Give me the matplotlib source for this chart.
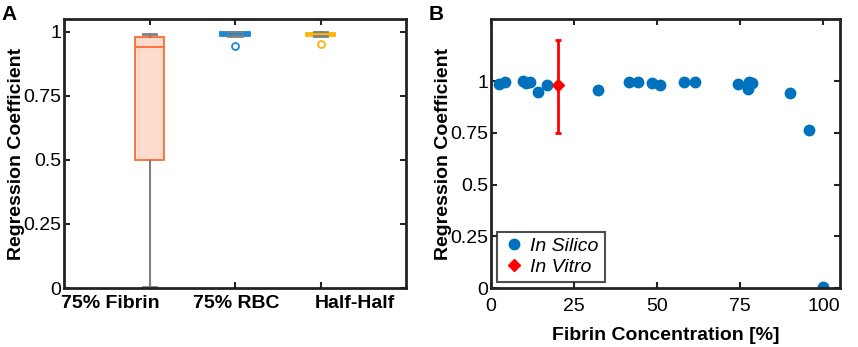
import matplotlib
matplotlib.use("Agg")
import matplotlib.pyplot as plt
from matplotlib import transforms

plt.rcParams['font.family'] = ['Liberation Sans', 'DejaVu Sans']

# ---- panel A: box plot stats ----
groups = ["75% Fibrin", "75% RBC", "Half-Half"]
q1 = [0.50, 0.983, 0.984]
med = [0.94, 0.99, 0.99]
q3 = [0.98, 0.998, 0.996]
whis_lo = [0.005, 0.983, 0.984]
whis_hi = [0.99, 0.999, 0.999]
fliers = [[], [0.943], [0.952]]
box_edge = ["#FF6A33", "#1A8AD4", "#FFB300"]
box_face = ["#FDDBCD", "#1A8AD4", "#FFE08A"]

# ---- panel B: scatter ----
fibrin_pct = [2.3, 4.3, 9.6, 10.6, 11.8, 14.1, 16.8, 32.2, 41.6, 44.3, 48.4,
              50.7, 58.0, 61.4, 74.4, 77.2, 77.7, 78.5, 90.0, 95.7, 99.8]
reg_coef = [0.987, 0.998, 1.0, 0.992, 0.998, 0.947, 0.982, 0.955, 0.997,
            0.995, 0.989, 0.982, 0.998, 0.995, 0.984, 0.96, 0.995, 0.992,
            0.944, 0.763, 0.003]
vitro_x = [20]
vitro_y = [0.98]
vitro_lo = [0.75]
vitro_hi = [1.20]

fig = plt.figure(figsize=(8.58, 3.47), dpi=100)
axA = fig.add_axes([0.0746, 0.170, 0.3986, 0.775])
axB = fig.add_axes([0.5723, 0.170, 0.4068, 0.775])

def style(ax):
    for s in ax.spines.values():
        s.set_linewidth(2)
        s.set_color("#222222")
    ax.tick_params(direction="in", length=4, width=1.5, color="#222222",
                   labelsize=14, top=True, right=True, pad=2)

stats = []
for i in range(3):
    stats.append(dict(med=med[i], q1=q1[i], q3=q3[i], whislo=whis_lo[i],
                      whishi=whis_hi[i], fliers=fliers[i]))
bp = axA.bxp(stats, positions=[1, 2, 3], widths=0.34, patch_artist=True,
             showfliers=True)
for i in range(3):
    bp['boxes'][i].set(facecolor=box_face[i], edgecolor=box_edge[i], linewidth=1.3)
    bp['medians'][i].set(color=box_edge[i], linewidth=1.3)
    bp['fliers'][i].set(marker='o', markerfacecolor='none',
                        markeredgecolor=box_edge[i], markersize=5, markeredgewidth=1.3)
for w in bp['whiskers']:
    w.set(color="#808080", linewidth=1.5)
for c in bp['caps']:
    c.set(color="#808080", linewidth=2)
    x = c.get_xdata()
    m = (x[0] + x[1]) / 2
    c.set_xdata([m - 0.08, m + 0.08])

axA.set_xlim(0, 4)
axA.set_ylim(0, 1.05)
axA.set_xticks([1, 2, 3])
axA.set_xticklabels([])
axA.set_yticks([0, 0.25, 0.5, 0.75, 1])
axA.set_yticklabels(["0", "0.25", "0.5", "0.75", "1"])
style(axA)
axA.set_ylabel("Regression Coefficient", fontsize=14, fontweight="bold", labelpad=-1)
trans = transforms.blended_transform_factory(axA.transData, axA.transAxes)
for xpos, lab in zip([0.54, 2.02, 3.40], groups):
    axA.text(xpos, -0.025, lab, transform=trans, ha="center", va="top",
             fontsize=14, fontweight="bold")

axB.errorbar(vitro_x, vitro_y,
             yerr=[[vitro_y[0] - vitro_lo[0]], [vitro_hi[0] - vitro_y[0]]],
             fmt='none', ecolor="#FF0000", elinewidth=2, capsize=2.5, capthick=2)
axB.plot(fibrin_pct, reg_coef, 'o', color="#0072BD", markersize=7.5,
         linestyle='none', label="In Silico")
axB.plot(vitro_x, vitro_y, 'D', color="#FF0000", markersize=6,
         linestyle='none', label="In Vitro")
axB.set_xlim(0, 105)
axB.set_ylim(0, 1.3)
axB.set_xticks([0, 25, 50, 75, 100])
axB.set_yticks([0, 0.25, 0.5, 0.75, 1])
axB.set_yticklabels(["0", "0.25", "0.5", "0.75", "1"])
style(axB)
axB.tick_params(axis='x', pad=7)
axB.set_xlabel("Fibrin Concentration [%]", fontsize=14, fontweight="bold", labelpad=9)
axB.set_ylabel("Regression Coefficient", fontsize=14, fontweight="bold", labelpad=-1)
leg = axB.legend(loc="lower left", bbox_to_anchor=(0.018, 0.024), fancybox=False,
                 edgecolor="#222222", prop=dict(style="italic", size=14),
                 handletextpad=0.3, borderpad=0.3, labelspacing=0.15,
                 handlelength=1.1, borderaxespad=0)
leg.get_frame().set_linewidth(1.5)

fig.text(0.002, 0.985, "A", fontsize=15, fontweight="bold", va="top")
fig.text(0.500, 0.985, "B", fontsize=15, fontweight="bold", va="top")

fig.savefig("out.png", dpi=100)
